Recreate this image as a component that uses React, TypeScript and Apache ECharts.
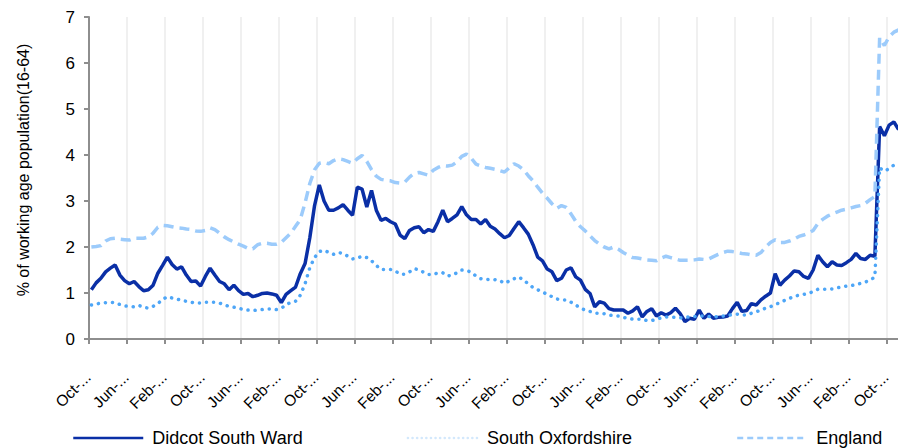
import React, { useEffect, useRef } from "react";
import * as echarts from "echarts";

// Monthly categories, starting October (labels every 8 months)
const MONTHS = ["Jan", "Feb", "Mar", "Apr", "May", "Jun", "Jul", "Aug", "Sep", "Oct", "Nov", "Dec"];
const START_YEAR = 2006;
const START_MONTH = 9; // October
const N_POINTS = 171;
const categories: string[] = [];
for (let k = 0; k < N_POINTS; k++) {
  const m = (START_MONTH + k) % 12;
  const y = START_YEAR + Math.floor((START_MONTH + k) / 12);
  categories.push(`${MONTHS[m]}-${String(y % 100).padStart(2, "0")}`);
}

const didcotSouthWard = [
  1.07, 1.22, 1.32, 1.46, 1.54, 1.61, 1.39, 1.27, 1.2, 1.25,
  1.14, 1.05, 1.07, 1.17, 1.43, 1.6, 1.78, 1.62, 1.52, 1.57,
  1.39, 1.25, 1.26, 1.15, 1.36, 1.54, 1.39, 1.25, 1.2, 1.07,
  1.17, 1.05, 0.97, 0.99, 0.92, 0.95, 0.99, 1.0, 0.98, 0.95,
  0.79, 0.97, 1.05, 1.13, 1.42, 1.64, 2.2, 2.9, 3.35, 3.0,
  2.8, 2.8, 2.85, 2.92, 2.8, 2.69, 3.3, 3.26, 2.87, 3.23,
  2.8, 2.58, 2.62, 2.55, 2.5, 2.26, 2.18, 2.36, 2.42, 2.44,
  2.31, 2.38, 2.34, 2.55, 2.8, 2.55, 2.62, 2.7, 2.88, 2.7,
  2.6, 2.6, 2.5, 2.6, 2.45, 2.39, 2.29, 2.2, 2.25, 2.4,
  2.55, 2.42, 2.28, 2.05, 1.78, 1.7, 1.52, 1.46, 1.27, 1.32,
  1.5, 1.55, 1.35, 1.28, 1.08, 0.99, 0.7, 0.81, 0.78, 0.66,
  0.63, 0.63, 0.63, 0.56, 0.61, 0.7, 0.48, 0.6, 0.66, 0.5,
  0.57, 0.52, 0.57, 0.67, 0.55, 0.38, 0.45, 0.43, 0.63, 0.45,
  0.54, 0.45, 0.47, 0.48, 0.5, 0.66, 0.8, 0.6, 0.62, 0.77,
  0.74, 0.85, 0.93, 1.0, 1.42, 1.17, 1.28, 1.37, 1.48, 1.46,
  1.36, 1.32, 1.5, 1.82, 1.68, 1.57, 1.68, 1.61, 1.6, 1.66,
  1.73, 1.86, 1.75, 1.73, 1.82, 1.8, 4.62, 4.42, 4.65, 4.72,
  4.55,
];

const southOxfordshire = [
  0.74, 0.76, 0.78, 0.79, 0.8, 0.79, 0.75, 0.72, 0.71, 0.7,
  0.73, 0.69, 0.67, 0.71, 0.77, 0.86, 0.92, 0.89, 0.87, 0.84,
  0.82, 0.8, 0.78, 0.78, 0.8, 0.8, 0.8, 0.78, 0.74, 0.71,
  0.69, 0.67, 0.64, 0.63, 0.62, 0.63, 0.64, 0.65, 0.65, 0.64,
  0.67, 0.74, 0.8, 0.82, 0.95, 1.2, 1.55, 1.77, 1.9, 1.93,
  1.88, 1.84, 1.88, 1.86, 1.8, 1.74, 1.76, 1.8, 1.77, 1.7,
  1.6, 1.51, 1.51, 1.51, 1.48, 1.41, 1.41, 1.46, 1.53, 1.5,
  1.45, 1.4, 1.4, 1.44, 1.44, 1.37, 1.39, 1.44, 1.5, 1.49,
  1.45, 1.37, 1.31, 1.29, 1.3, 1.29, 1.27, 1.21, 1.26, 1.31,
  1.35, 1.28, 1.2, 1.12, 1.07, 1.02, 0.97, 0.92, 0.87, 0.85,
  0.85, 0.8, 0.74, 0.67, 0.63, 0.6, 0.56, 0.56, 0.55, 0.52,
  0.51, 0.5, 0.47, 0.45, 0.43, 0.43, 0.43, 0.4, 0.4, 0.43,
  0.46, 0.48, 0.48, 0.47, 0.46, 0.47, 0.48, 0.49, 0.5, 0.5,
  0.49, 0.48, 0.49, 0.5, 0.51, 0.53, 0.54, 0.52, 0.52, 0.56,
  0.59, 0.63, 0.67, 0.7, 0.75, 0.79, 0.84, 0.88, 0.93, 0.95,
  0.97, 0.99, 1.03, 1.08, 1.08, 1.08, 1.09, 1.11, 1.13, 1.15,
  1.16, 1.18, 1.21, 1.24, 1.28, 1.35, 3.72, 3.65, 3.7, 3.78,
  3.82,
];

const england = [
  2.0, 2.01, 2.03, 2.13, 2.18, 2.19, 2.17, 2.16, 2.15, 2.19,
  2.19, 2.19, 2.22, 2.3, 2.43, 2.47, 2.46, 2.44, 2.42, 2.41,
  2.39, 2.38, 2.35, 2.34, 2.36, 2.42, 2.38, 2.3, 2.22, 2.16,
  2.11, 2.06, 2.02, 1.97, 1.96, 2.05, 2.08, 2.08, 2.06, 2.06,
  2.1, 2.2, 2.3, 2.45, 2.6, 2.96, 3.38, 3.68, 3.82, 3.84,
  3.81, 3.88, 3.92, 3.9, 3.86, 3.82, 3.92, 3.99, 3.86, 3.68,
  3.54, 3.47, 3.45, 3.44, 3.4, 3.39, 3.41, 3.52, 3.6, 3.62,
  3.59, 3.56, 3.67, 3.73, 3.77, 3.76, 3.78, 3.85, 3.97, 4.02,
  3.93, 3.8, 3.76, 3.73, 3.71, 3.69, 3.66, 3.63, 3.72, 3.81,
  3.76, 3.68, 3.55, 3.44, 3.3, 3.17, 3.06, 2.94, 2.84, 2.9,
  2.86, 2.72, 2.56, 2.44, 2.35, 2.24, 2.14, 2.06, 2.0, 1.96,
  2.0, 1.95, 1.88, 1.82, 1.77, 1.76, 1.74, 1.72, 1.71, 1.7,
  1.76, 1.8, 1.77, 1.74, 1.71, 1.71, 1.71, 1.72, 1.74, 1.73,
  1.74, 1.79, 1.84, 1.88, 1.91, 1.9, 1.88, 1.86, 1.85, 1.83,
  1.82, 1.88, 2.0, 2.1, 2.16, 2.1, 2.1, 2.13, 2.17, 2.23,
  2.26, 2.3, 2.36, 2.51, 2.6, 2.67, 2.72, 2.76, 2.8, 2.82,
  2.85, 2.88, 2.9, 2.95, 3.03, 3.1, 6.55, 6.38, 6.57, 6.67,
  6.72,
];

const Y_TICKS = [0, 1, 2, 3, 4, 5, 6, 7];
const Y_NAME = "% of working age population(16-64)";
const SERIES_NAMES = ["Didcot South Ward", "South Oxfordshire", "England"];

const FONT = "'Liberation Sans', Arial, sans-serif";

export default function App() {
  const ref = useRef<HTMLDivElement>(null);
  useEffect(() => {
    document.body.style.margin = "0";
    if (!ref.current) return;
    const chart = echarts.init(ref.current, null, { renderer: "svg" });
    chart.setOption({
      animation: false,
      backgroundColor: "#ffffff",
      textStyle: { fontFamily: FONT, color: "#000" },
      grid: { left: 89, right: -3, top: 17, bottom: 109, containLabel: false, outerBoundsMode: "none" },
      legend: {
        data: [
          { name: SERIES_NAMES[0], lineStyle: { width: 2.5 } },
          { name: SERIES_NAMES[1], lineStyle: { color: "#d3e8fc", width: 2.5, type: [0.1, 4.5], cap: "round" } },
          { name: SERIES_NAMES[2], lineStyle: { width: 2.5, type: [6, 4] } },
        ],
        left: 67,
        top: 424,
        itemWidth: 70,
        itemHeight: 14,
        itemGap: 104,
        itemStyle: { opacity: 0 },
        textStyle: { fontSize: 18, color: "#000", fontFamily: FONT, padding: [0, 0, 0, 4] },
      },
      xAxis: {
        type: "category",
        data: categories,
        boundaryGap: true,
        axisLine: { show: true, lineStyle: { color: "#8e8e8e", width: 2 } },
        axisTick: { show: true, interval: 7, length: 5, lineStyle: { color: "#8e8e8e", width: 2 } },
        axisLabel: {
          interval: 7,
          rotate: 45,
          margin: 32,
          padding: [0, 5, 0, 0],
          fontSize: 15.5,
          color: "#000",
          fontFamily: FONT,
          formatter: (v: string) => `${v.split("-")[0]}-...`,
        },
        splitLine: { show: true, interval: 7, lineStyle: { color: "#ebebeb", width: 1.5 } },
      },
      yAxis: {
        type: "value",
        min: Y_TICKS[0],
        max: Y_TICKS[Y_TICKS.length - 1],
        interval: 1,
        name: Y_NAME,
        nameLocation: "middle",
        nameGap: 58,
        nameTextStyle: { fontSize: 16, color: "#000", fontFamily: FONT, padding: [0, 0, 0, 16] },
        axisLine: { show: true, lineStyle: { color: "#8e8e8e", width: 2 } },
        axisTick: { show: true, length: 5, lineStyle: { color: "#8e8e8e", width: 2 } },
        axisLabel: { fontSize: 17, color: "#000", margin: 14, fontFamily: FONT },
        splitLine: { show: false },
      },
      series: [
        {
          name: SERIES_NAMES[0],
          type: "line",
          data: didcotSouthWard,
          symbol: "none",
          lineStyle: { color: "#0a2fa6", width: 3.5 },
          itemStyle: { color: "#0a2fa6" },
        },
        {
          name: SERIES_NAMES[1],
          type: "line",
          data: southOxfordshire,
          symbol: "none",
          lineStyle: { color: "#4ea6f7", width: 3.5, type: [0.1, 7], cap: "round" },
          itemStyle: { color: "#4ea6f7" },
        },
        {
          name: SERIES_NAMES[2],
          type: "line",
          data: england,
          symbol: "none",
          lineStyle: { color: "#9ccbfb", width: 3.5, type: [10, 6] },
          itemStyle: { color: "#9ccbfb" },
        },
      ],
    });
    return () => chart.dispose();
  }, []);
  return <div ref={ref} style={{ width: 898, height: 448 }} />;
}
